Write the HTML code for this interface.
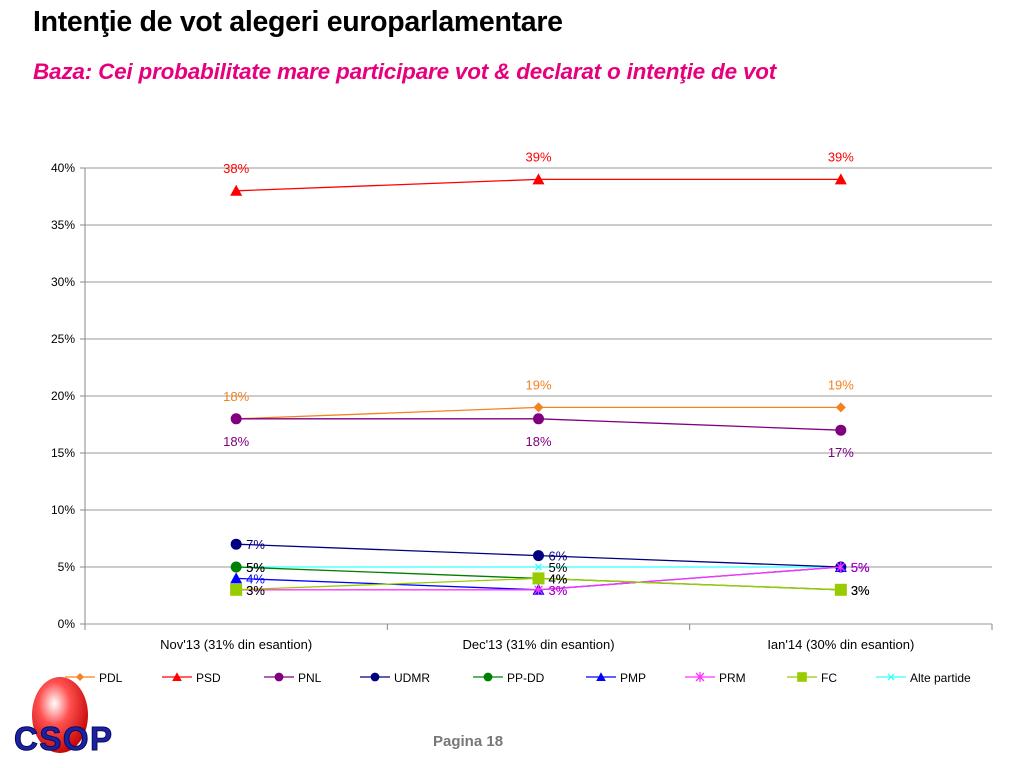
<!DOCTYPE html>
<html><head><meta charset="utf-8"><style>
body{margin:0;width:1024px;height:768px;background:#fff;font-family:"Liberation Sans",sans-serif;overflow:hidden;position:relative}
.t{position:absolute;left:33px;top:6px;font-size:28.5px;font-weight:bold;color:#000;letter-spacing:-0.3px}
.s{position:absolute;left:33px;top:59px;font-size:22.5px;font-weight:bold;font-style:italic;color:#e6007e;letter-spacing:-0.2px}
</style></head><body>
<div class="t">Intenţie de vot alegeri europarlamentare</div>
<div class="s">Baza: Cei probabilitate mare participare vot &amp; declarat o intenţie de vot</div>
<svg id="c" width="1024" height="768" style="position:absolute;left:0;top:0"></svg>
<script>
const categories=["Nov'13 (31% din esantion)","Dec'13 (31% din esantion)","Ian'14 (30% din esantion)"];
const yTicks=[0,5,10,15,20,25,30,35,40];
const seriesNames=["PDL","PSD","PNL","UDMR","PP-DD","PMP","PRM","FC","Alte partide"];
const pdl=[18,19,19];
const psd=[38,39,39];
const pnl=[18,18,17];
const udmr=[7,6,5];
const ppdd=[5,4,3];
const pmp=[4,3,5];
const prm=[3,3,5];
const fc=[3,4,3];
const alte=[5,5,5];
const values=[pdl,psd,pnl,udmr,ppdd,pmp,prm,fc,alte];
const colors=["#f58220","#ff0000","#800080","#000080","#008000","#0000ff","#ff33ff","#99cc00","#33ffff"];
const labelColors=["#f58220","#ff0000","#800080","#000080","#000","#0000ff","#cc00cc","#000","#000"];
const markers=["diamond","triangle","circle","circle","circle","triangle","star","square","x"];
const labelPos=["above","above","below","right","right","right","right","right","right"];
const svg=document.getElementById('c');const NS='http://www.w3.org/2000/svg';
const X0=85,X1=992,Y0=624,Y1=168;
const x=i=>X0+(X1-X0)*(i+0.5)/categories.length;
const y=v=>Y0-(Y0-Y1)*v/40;
function mk(t,a,p){const e=document.createElementNS(NS,t);for(const k in a)e.setAttribute(k,a[k]);(p||svg).appendChild(e);return e;}
yTicks.forEach(v=>{
 const g=mk('line',{x1:X0,x2:X1,y1:y(v),y2:y(v),stroke:'#999','stroke-width':1});
 
 
 mk('line',{x1:X0-5,x2:X0,y1:y(v),y2:y(v),stroke:'#888'});
 const t=mk('text',{x:X0-10,y:y(v)+4,'text-anchor':'end','font-size':12});t.textContent=v+'%';
 
 
});
mk('line',{x1:X0,x2:X0,y1:Y1,y2:Y0,stroke:'#888'});
for(let i=0;i<=categories.length;i++){const xx=X0+(X1-X0)*i/categories.length;mk('line',{x1:xx,x2:xx,y1:Y0,y2:Y0+6,stroke:'#888'});}
categories.forEach((c,i)=>{const t=mk('text',{x:x(i),y:Y0+25,'text-anchor':'middle','font-size':13});t.textContent=c;
 
 });
function marker(type,cx,cy,col,p,s){s=s||1;
 if(type==='diamond')return mk('path',{d:`M${cx} ${cy-5*s}L${cx+5*s} ${cy}L${cx} ${cy+5*s}L${cx-5*s} ${cy}Z`,fill:col},p);
 if(type==='triangle')return mk('path',{d:`M${cx} ${cy-6*s}L${cx+6*s} ${cy+5*s}L${cx-6*s} ${cy+5*s}Z`,fill:col},p);
 if(type==='circle')return mk('circle',{cx,cy,r:5.5*s,fill:col},p);
 if(type==='square')return mk('rect',{x:cx-6*s,y:cy-6*s,width:12*s,height:12*s,fill:col},p);
 if(type==='star')return mk('path',{d:`M${cx-4} ${cy-4}L${cx+4} ${cy+4}M${cx+4} ${cy-4}L${cx-4} ${cy+4}M${cx} ${cy-5}L${cx} ${cy+5}`,stroke:col,'stroke-width':1.3,fill:'none'},p);
 return mk('path',{d:`M${cx-3} ${cy-3}L${cx+3} ${cy+3}M${cx+3} ${cy-3}L${cx-3} ${cy+3}`,stroke:col,'stroke-width':1.3,fill:'none'},p);
}
[8,0,1,2,3,4,5,6,7].forEach(si=>{
 const g=mk('g',{});
 
 
 const d=values[si].map((v,i)=>(i?'L':'M')+x(i)+' '+y(v)).join('');
 mk('path',{d,stroke:colors[si],'stroke-width':1.3,fill:'none'},g);
 values[si].forEach((v,i)=>{
  const m=marker(markers[si],x(i),y(v),colors[si],g);
  
  
  let lx=x(i),ly=y(v),an='middle';
  if(labelPos[si]==='above')ly-=18;else if(labelPos[si]==='below')ly+=27;else{lx+=10;ly+=5;an='start';}
  const t=mk('text',{x:lx,y:ly,'text-anchor':an,'font-size':13,fill:labelColors[si]},g);t.textContent=v+'%';
  
  
 });
});
const lx=[65,162,264,360,473,586,685,787,876];
seriesNames.forEach((n,i)=>{
 const g=mk('g',{});
 
 
 mk('line',{x1:lx[i],x2:lx[i]+30,y1:677,y2:677,stroke:colors[i],'stroke-width':1.3},g);
 marker(markers[i],lx[i]+15,677,colors[i],g,0.8);
 const t=mk('text',{x:lx[i]+34,y:682,'font-size':12},g);t.textContent=n;
});
const lg=mk('g',{});


mk('defs',{},lg).innerHTML='<radialGradient id="rg" cx="0.4" cy="0.35" r="0.7"><stop offset="0" stop-color="#fff"/><stop offset="0.4" stop-color="#ff5050"/><stop offset="1" stop-color="#c00000"/></radialGradient>';
mk('ellipse',{cx:60,cy:715,rx:28,ry:38,fill:'url(#rg)'},lg);
const lt=mk('text',{x:14,y:750,'font-size':33,'font-weight':'bold',fill:'#1a22a0',stroke:'#0a0a60','stroke-width':1,textLength:98},lg);lt.textContent='CSOP';
const pg=mk('text',{x:433,y:746,'font-size':15,'font-weight':'bold',fill:'#777'});pg.textContent='Pagina 18';


</script>
</body></html>
